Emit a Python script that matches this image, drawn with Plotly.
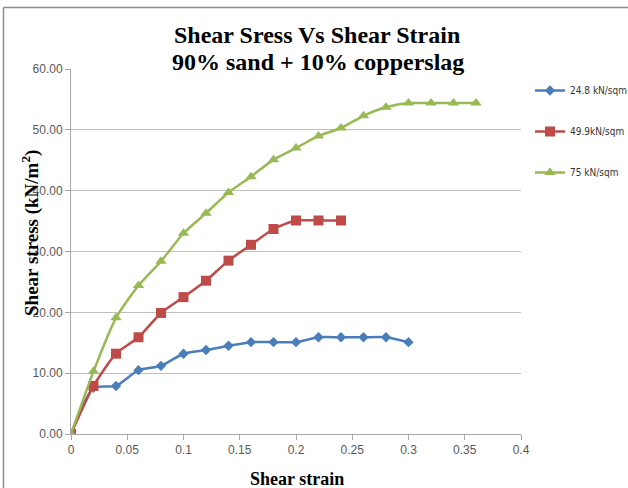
import plotly.graph_objects as go

strain_a = [0, 0.02, 0.04, 0.06, 0.08, 0.10, 0.12, 0.14, 0.16, 0.18, 0.20, 0.22, 0.24, 0.26, 0.28, 0.30]
stress_a = [0, 7.6, 7.9, 10.5, 11.2, 13.2, 13.8, 14.5, 15.1, 15.1, 15.1, 15.9, 15.9, 15.9, 15.9, 15.1]

strain_b = [0, 0.02, 0.04, 0.06, 0.08, 0.10, 0.12, 0.14, 0.16, 0.18, 0.20, 0.22, 0.24]
stress_b = [0, 7.9, 13.2, 15.9, 19.9, 22.5, 25.2, 28.5, 31.1, 33.7, 35.1, 35.1, 35.1]

strain_c = [0, 0.02, 0.04, 0.06, 0.08, 0.10, 0.12, 0.14, 0.16, 0.18, 0.20, 0.22, 0.24,
            0.26, 0.28, 0.30, 0.32, 0.34, 0.36]
stress_c = [0, 10.3, 19.1, 24.4, 28.4, 33.0, 36.3, 39.7, 42.3, 45.1, 47.0, 49.0, 50.3,
            52.3, 53.7, 54.4, 54.4, 54.4, 54.4]

names = ["24.8 kN/sqm", "49.9kN/sqm", "75 kN/sqm"]
colors = ["#4a7ebb", "#be4b48", "#98b954"]

x_ticks = [0, 0.05, 0.1, 0.15, 0.2, 0.25, 0.3, 0.35, 0.4]
x_tick_text = ["0", "0.05", "0.1", "0.15", "0.2", "0.25", "0.3", "0.35", "0.4"]
y_ticks = [0, 10, 20, 30, 40, 50, 60]

fig = go.Figure()
series = [(strain_a, stress_a, "diamond", 8), (strain_b, stress_b, "square", 10),
          (strain_c, stress_c, "triangle-up", 10)]
for i, (xs, ys, sym, sz) in enumerate(series):
    fig.add_trace(go.Scatter(
        x=xs, y=ys, mode="lines+markers", name=names[i], legendgroup=str(i),
        line=dict(color=colors[i], width=2.5, shape="spline", smoothing=0.6),
        marker=dict(symbol=sym, size=sz, color=colors[i]),
    ))

sans = "Liberation Sans, Arial, sans-serif"
serif = "Liberation Serif, Times New Roman, serif"

L, R, T, B = 71, 107, 69, 54
plot_w = 628 - L - R
plot_h = 488 - T - B


def px_x(px):
    return (px - L) / plot_w


def px_y(py):
    return (488 - B - py) / plot_h


fig.update_layout(
    width=628, height=488,
    margin=dict(l=L, r=R, t=T, b=B, autoexpand=False),
    paper_bgcolor="white", plot_bgcolor="white",
    showlegend=True,
    legend=dict(x=px_x(530), y=px_y(76), xanchor="left", yanchor="top",
                font=dict(family="DejaVu Sans Condensed, Liberation Sans Narrow, sans-serif", size=10, color="#333"),
                tracegroupgap=22, itemwidth=30, bgcolor="rgba(0,0,0,0)"),
    xaxis=dict(range=[0, 0.4], tickvals=x_ticks, ticktext=x_tick_text,
               showgrid=False, zeroline=False, showline=True, linecolor="#a6a6a6", linewidth=1,
               ticks="outside", ticklen=5, tickcolor="#a6a6a6",
               tickfont=dict(family=sans, size=12, color="#595959")),
    yaxis=dict(range=[0, 60], tickvals=y_ticks, tickformat=".2f",
               showgrid=True, gridcolor="#c0c0c0", gridwidth=1,
               zeroline=False, showline=True, linecolor="#a6a6a6", linewidth=1,
               ticks="outside", ticklen=5, tickcolor="#a6a6a6",
               tickfont=dict(family=sans, size=12, color="#595959")),
)

fig.add_annotation(text="<b>Shear Sress Vs Shear Strain</b>", x=px_x(317), y=px_y(35),
                   xref="paper", yref="paper", xanchor="center", yanchor="middle", showarrow=False,
                   font=dict(family=serif, size=24, color="black"))
fig.add_annotation(text="<b>90% sand + 10% copperslag</b>", x=px_x(318), y=px_y(62),
                   xref="paper", yref="paper", xanchor="center", yanchor="middle", showarrow=False,
                   font=dict(family=serif, size=24, color="black"))
fig.add_annotation(text="<b>Shear strain</b>", x=px_x(297), y=px_y(479),
                   xref="paper", yref="paper", xanchor="center", yanchor="middle", showarrow=False,
                   font=dict(family=serif, size=18, color="black"))
fig.add_annotation(text="<b>Shear stress (kN/m<sup>2</sup>)</b>", x=px_x(30), y=px_y(233),
                   xref="paper", yref="paper", xanchor="center", yanchor="middle", textangle=-90,
                   showarrow=False, font=dict(family=serif, size=19, color="black"))

# outer frame
fig.add_shape(type="line", xref="paper", yref="paper", x0=px_x(3.5), x1=px_x(640), y0=px_y(7.5), y1=px_y(7.5),
              line=dict(color="#8c8c8c", width=1.5))
fig.add_shape(type="line", xref="paper", yref="paper", x0=px_x(3.5), x1=px_x(3.5), y0=px_y(7.5), y1=px_y(500),
              line=dict(color="#8c8c8c", width=1.5))

fig.write_html("out.html")
